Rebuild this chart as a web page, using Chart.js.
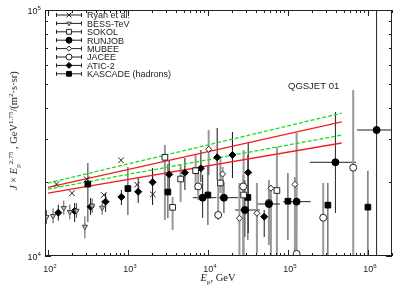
<!DOCTYPE html>
<html>
<head>
<meta charset="utf-8">
<script src="https://cdn.jsdelivr.net/npm/chart.js@4.4.1/dist/chart.umd.min.js"></script>
<style>
  html, body { margin: 0; padding: 0; background: #fff; }
  #wrap { width: 407px; height: 285px; }
</style>
</head>
<body>
<div id="wrap"><canvas id="c" width="407" height="285"></canvas></div>
<script>
// ---- data (E in GeV, J in GeV^1.75/(m2 s sr)) ----
const ryanE = [128, 200, 307, 500, 820, 1300, 2050];
const ryanJ = [19600, 18000, 20500, 17700, 24500, 19500, 17800];

const bessE = [96, 116, 158, 188, 228, 290, 358, 477];
const bessJ = [14400, 14540, 15670, 15100, 15280, 13150, 16010, 15720];
const bessLo = [13500, 13600, 14700, 14100, 14300, 11800, 15000, 14700];
const bessHi = [15400, 15600, 16800, 16200, 16400, 14500, 17100, 16800];

const sokolE = [2900, 3620, 4560, 7020, 14330, 27940, 72880];
const sokolJ = [25190, 15770, 20560, 22220, 19810, 17700, 18460];
const sokolLo = [14010, 12760, 16580, 18550, 18040, 9500, 9500];
const sokolHi = [28260, 17380, 23440, 25740, 25030, 26970, 27740];

const runjobE = [8590, 15850, 29000, 57870, 128400, 392500, 1284000];
const runjobJ = [17260, 17260, 15380, 16270, 16630, 24040, 32520];
const runjobLo = [14270, 14960, 11950, 11620, 13120, 14960, 9000];
const runjobHi = [21350, 20000, 20370, 19080, 31620, 38500, 110000];
const runjobELo = [6490, 12840, 21760, 40970, 87300, 188400, 728600];
const runjobEHi = [12590, 23900, 44670, 79430, 192000, 707900, 2100000];

const mubeeE = [10230, 15270, 24770, 40980, 61310, 122400];
const mubeeJ = [27150, 21540, 14230, 14920, 18850, 19560];
const mubeeLo = [21350, 16890, 9500, 10280, 9500, 9500];
const mubeeHi = [32520, 23000, 19810, 19810, 19440, 20950];

const jaceeE = [7570, 13450, 27620, 57870, 128400, 276100, 654800];
const jaceeJ = [19170, 14680, 19170, 16430, 10190, 14310, 22860];
const jaceeLo = [16890, 14010, 9500, 11080, 9500, 9500, 9500];
const jaceeHi = [21750, 19810, 21350, 20370, 31620, 19810, 47300];

const aticE = [135, 216, 342, 526, 829, 1345, 2036, 3284, 5158, 8175, 13060, 20250, 31900, 50550];
const aticJ = [15000, 15240, 15860, 16630, 17380, 18250, 19940, 21450, 21810, 22730, 25190, 25740, 21850, 14450];
const aticLo = [13920, 13750, 14680, 15100, 16120, 16430, 16120, 18550, 18550, 20000, 20370, 20750, 12400, 11950];
const aticHi = [16160, 16430, 17220, 18040, 18550, 20750, 22800, 24550, 25030, 26970, 33130, 31920, 28800, 15380];

const kascadeE = [316, 1000, 3160, 10000, 31600, 100000, 316000, 1000000];
const kascadeJ = [19600, 18800, 18200, 17700, 17300, 16700, 16100, 15800];
const kascadeLo = [13750, 14680, 14270, 13370, 11620, 11620, 9000, 9000];
const kascadeHi = [23880, 23000, 23660, 23440, 25740, 21750, 19810, 22220];

// model bands (QGSJET 01)
const bandE = [100, 470000];
const greenUpper = [19800, 38100];
const redUpper = [19000, 35100];
const greenLower = [18700, 31000];
const redLower = [18000, 28800];

const xMin = 92, xMax = 2.0e6, yMin = 1e4, yMax = 1e5;

const toPts = (xs, ys) => xs.map((x, i) => ({ x: x, y: ys[i] }));

const series = [
  { label: "Ryan et al.", e: ryanE, j: ryanJ, style: "crossRot", r: 4, bg: "#fff", bd: "#222" },
  { label: "BESS-TeV", e: bessE, j: bessJ, lo: bessLo, hi: bessHi, barColor: "#555", barWidth: 1,
    style: "triangle", rot: 180, r: 3, bg: "#bbb", bd: "#444" },
  { label: "SOKOL", e: sokolE, j: sokolJ, lo: sokolLo, hi: sokolHi, barColor: "#999", barWidth: 2,
    style: "rect", r: 4, bg: "#fff", bd: "#222" },
  { label: "RUNJOB", e: runjobE, j: runjobJ, lo: runjobLo, hi: runjobHi, elo: runjobELo, ehi: runjobEHi,
    barColor: "#222", barWidth: 1, style: "circle", r: 3.5, bg: "#000", bd: "#000" },
  { label: "MUBEE", e: mubeeE, j: mubeeJ, lo: mubeeLo, hi: mubeeHi, barColor: "#999", barWidth: 2,
    style: "rectRot", r: 3, bg: "#fff", bd: "#222" },
  { label: "JACEE", e: jaceeE, j: jaceeJ, lo: jaceeLo, hi: jaceeHi, barColor: "#999", barWidth: 2,
    style: "circle", r: 3.5, bg: "#fff", bd: "#222" },
  { label: "ATIC-2", e: aticE, j: aticJ, lo: aticLo, hi: aticHi, barColor: "#111", barWidth: 1,
    style: "rectRot", r: 3.5, bg: "#000", bd: "#000" },
  { label: "KASCADE (hadrons)", e: kascadeE, j: kascadeJ, lo: kascadeLo, hi: kascadeHi, barColor: "#333", barWidth: 1,
    style: "rect", r: 4, bg: "#000", bd: "#000" },
];

const SANS = '"Liberation Sans", Arial, sans-serif';
const SERIF = '"Liberation Serif", "Times New Roman", serif';

function line(ctx, x1, y1, x2, y2) {
  ctx.beginPath();
  ctx.moveTo(x1, y1);
  ctx.lineTo(x2, y2);
  ctx.stroke();
}

// parts: [text, kind]; kind: "" normal, "i" italic, "sup", "sub"
function richText(ctx, parts, x, y, size, family) {
  let cx = x;
  parts.forEach(([t, kind]) => {
    const small = kind === "sup" || kind === "sub";
    const fs = small ? size * 0.68 : size;
    ctx.font = (kind === "i" ? "italic " : "") + fs + "px " + family;
    const dy = kind === "sup" ? -size * 0.42 : kind === "sub" ? size * 0.25 : 0;
    ctx.fillText(t, cx, y + dy);
    cx += ctx.measureText(t).width;
  });
  return cx - x;
}

function richWidth(ctx, parts, size, family) {
  let w = 0;
  parts.forEach(([t, kind]) => {
    const small = kind === "sup" || kind === "sub";
    ctx.font = (kind === "i" ? "italic " : "") + (small ? size * 0.68 : size) + "px " + family;
    w += ctx.measureText(t).width;
  });
  return w;
}

const errorBars = {
  id: "errorBars",
  beforeDatasetsDraw(chart) {
    const { ctx, chartArea: a, scales: { x, y } } = chart;
    ctx.save();
    ctx.beginPath();
    ctx.rect(a.left, a.top, a.right - a.left, a.bottom - a.top);
    ctx.clip();
    series.forEach((s) => {
      if (!s.lo) return;
      ctx.strokeStyle = s.barColor;
      ctx.lineWidth = s.barWidth;
      s.e.forEach((e, i) => {
        const px = x.getPixelForValue(e);
        const py = y.getPixelForValue(s.j[i]);
        line(ctx, px, y.getPixelForValue(s.lo[i]), px, y.getPixelForValue(s.hi[i]));
        if (s.elo) {
          line(ctx, x.getPixelForValue(s.elo[i]), py, x.getPixelForValue(s.ehi[i]), py);
        }
      });
    });
    ctx.restore();
  },
};

const frame = {
  id: "frame",
  afterDraw(chart) {
    const { ctx, chartArea: a, scales: { x, y } } = chart;
    ctx.save();
    ctx.strokeStyle = "#222";
    ctx.lineWidth = 1;
    ctx.strokeRect(a.left + 0.5, a.top + 0.5, a.right - a.left - 1, a.bottom - a.top - 1);

    // inward ticks, log minors
    for (let d = 1; d <= 6; d++) {
      for (let m = 1; m <= 9; m++) {
        const v = m * Math.pow(10, d);
        if (v < xMin || v > xMax) continue;
        const len = m === 1 ? 6 : 3;
        const p = Math.round(x.getPixelForValue(v)) + 0.5;
        line(ctx, p, a.bottom, p, a.bottom - len);
        line(ctx, p, a.top, p, a.top + len);
      }
    }
    for (let m = 1; m <= 10; m++) {
      const v = m * 1e4;
      const len = m === 1 || m === 10 ? 6 : 3;
      const p = Math.round(y.getPixelForValue(v)) + 0.5;
      line(ctx, a.left, p, a.left + len, p);
      line(ctx, a.right, p, a.right - len, p);
    }

    // tick labels
    ctx.fillStyle = "#222";
    ctx.textBaseline = "alphabetic";
    ctx.textAlign = "left";
    [2, 3, 4, 5, 6].forEach((d) => {
      const parts = [["10", ""], [String(d), "sup"]];
      const w = richWidth(ctx, parts, 9, SANS);
      richText(ctx, parts, x.getPixelForValue(Math.pow(10, d)) - w / 2 + 2, 272, 9, SANS);
    });
    [4, 5].forEach((d) => {
      const parts = [["10", ""], [String(d), "sup"]];
      const w = richWidth(ctx, parts, 9, SANS);
      richText(ctx, parts, 41 - w, y.getPixelForValue(Math.pow(10, d)) + 4, 9, SANS);
    });

    // axis titles
    const xt = [["E", "i"], ["p", "sub"], [", GeV", ""]];
    const xw = richWidth(ctx, xt, 10.5, SERIF);
    richText(ctx, xt, 218 - xw / 2, 281, 10.5, SERIF);

    ctx.save();
    ctx.translate(17, 190);
    ctx.rotate(-Math.PI / 2);
    richText(ctx, [["J", "i"], [" \u00d7 ", ""], ["E", "i"], ["p", "sub"], ["2.75", "sup"],
      [" , GeV", ""], ["1.75", "sup"], ["/(m", ""], ["2", "sup"], ["\u00b7s\u00b7sr)", ""]], 0, 0, 10.5, SERIF);
    ctx.restore();

    // model label
    ctx.font = "9.5px " + SANS;
    ctx.fillText("QGSJET 01", 288, 89);

    // legend
    series.forEach((s, i) => {
      const ly = 15 + i * 8.4;
      ctx.strokeStyle = "#222";
      ctx.lineWidth = 1;
      line(ctx, 56, ly, 82, ly);
      line(ctx, 56.5, ly - 2, 56.5, ly + 2);
      line(ctx, 81.5, ly - 2, 81.5, ly + 2);
      ctx.fillStyle = s.bg;
      ctx.strokeStyle = s.bd;
      Chart.helpers.drawPoint(ctx, { pointStyle: s.style, radius: s.r * 0.85, rotation: s.rot || 0, borderWidth: 1 }, 69, ly);
      ctx.fillStyle = "#222";
      ctx.font = "9px " + SANS;
      ctx.fillText(s.label, 87, ly + 3.3);
    });
    ctx.restore();
  },
};

const bandSet = (data, color, dashed) => ({
  data: toPts(bandE, data),
  showLine: true,
  borderColor: color,
  borderWidth: 1.3,
  borderDash: dashed ? [4, 2] : [],
  pointRadius: 0,
  fill: false,
});

const pointSets = series.map((s) => ({
  label: s.label,
  data: toPts(s.e, s.j),
  pointStyle: s.style,
  pointRadius: s.r,
  rotation: s.rot || 0,
  backgroundColor: s.bg,
  borderColor: s.bd,
  borderWidth: 1,
  showLine: false,
}));

new Chart(document.getElementById("c"), {
  type: "scatter",
  data: {
    datasets: [
      ...pointSets,
      bandSet(greenUpper, "#1fdc1f", true),
      bandSet(redUpper, "#f02020", false),
      bandSet(greenLower, "#1fdc1f", true),
      bandSet(redLower, "#f02020", false),
    ],
  },
  options: {
    responsive: false,
    animation: false,
    layout: { padding: { left: 45, right: 15, top: 10, bottom: 29 } },
    plugins: { legend: { display: false }, tooltip: { enabled: false } },
    scales: {
      x: { type: "logarithmic", min: xMin, max: xMax, display: false },
      y: { type: "logarithmic", min: yMin, max: yMax, display: false },
    },
  },
  plugins: [errorBars, frame],
});
</script>
</body>
</html>
